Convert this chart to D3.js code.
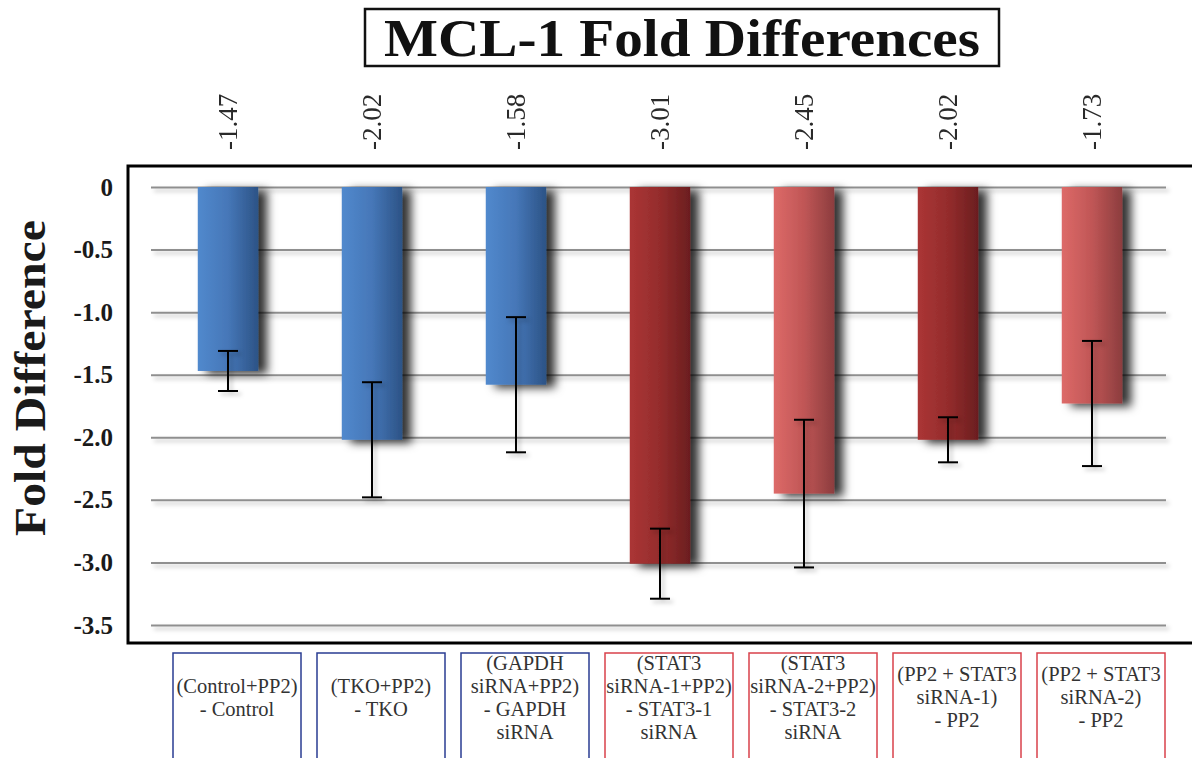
<!DOCTYPE html>
<html>
<head>
<meta charset="utf-8">
<script src="https://cdn.jsdelivr.net/npm/d3@7"></script>
<style>
  body { margin: 0; background: #fff; }
  svg { display: block; }
</style>
</head>
<body>
<svg id="chart" width="1192" height="758"></svg>
<script>
/* ======================= DATA ========================== */
const categories = [
    ["(Control+PP2)", "- Control"],
    ["(TKO+PP2)", "- TKO"],
    ["(GAPDH", "siRNA+PP2)", "- GAPDH", "siRNA"],
    ["(STAT3", "siRNA-1+PP2)", "- STAT3-1", "siRNA"],
    ["(STAT3", "siRNA-2+PP2)", "- STAT3-2", "siRNA"],
    ["(PP2 + STAT3", "siRNA-1)", "- PP2"],
    ["(PP2 + STAT3", "siRNA-2)", "- PP2"]
];
const foldValues = [-1.47, -2.02, -1.58, -3.01, -2.45, -2.02, -1.73];
const errValues  = [0.16, 0.46, 0.54, 0.28, 0.59, 0.18, 0.50];
const groups     = ["ctrl", "ctrl", "ctrl", "stat", "statB", "stat", "statB"];
const yTicks     = [0, -0.5, -1.0, -1.5, -2.0, -2.5, -3.0, -3.5];

const titleText = "MCL-1 Fold Differences";
const yTitle = "Fold Difference";

/* ======================= SETUP ========================= */
const svg = d3.select("#chart");
const serif = "'Liberation Serif', 'DejaVu Serif', serif";
const idx = d3.range(foldValues.length);

// plain hyphen as minus sign, like the original
const loc = d3.formatLocale({ decimal: ".", thousands: ",", grouping: [3], currency: ["", ""], minus: "-" });
const fmt1 = loc.format(".1f");
const fmt2 = loc.format(".2f");

const x = d3.scaleBand()
            .domain(idx)
            .range([156, 1164])
            .paddingInner(0.58)
            .paddingOuter(0.29);

const y = d3.scaleLinear()
            .domain([0, -3.5])
            .range([187, 625]);

const gradStops = {
    ctrl:  ["#5189cd", "#4677b8", "#2c5386"],
    stat:  ["#ab3535", "#942c2c", "#6b1e1f"],
    statB: ["#dd6a68", "#c05656", "#8c3d3e"]
};
const boxColor = { ctrl: "#2a3d92", stat: "#d9414b", statB: "#d9414b" };

let defs = svg.append("defs");

Object.keys(gradStops).forEach(k => {
    let g = defs.append("linearGradient")
                .attr("id", "grad_" + k)
                .attr("x1", "0%").attr("x2", "100%")
                .attr("y1", "0%").attr("y2", "0%");
    gradStops[k].forEach((c, i) => {
        g.append("stop")
         .attr("offset", (i * 50) + "%")
         .attr("stop-color", c);
    });
});

let shadow = defs.append("filter")
                 .attr("id", "shadow")
                 .attr("x", "-20%").attr("y", "-10%")
                 .attr("width", "170%").attr("height", "130%");
shadow.append("feDropShadow")
      .attr("dx", 9).attr("dy", 3)
      .attr("stdDeviation", 5)
      .attr("flood-color", "#000")
      .attr("flood-opacity", 0.8);

let softShadow = defs.append("filter")
                     .attr("id", "softShadow")
                     .attr("x", "-50%").attr("y", "-50%")
                     .attr("width", "200%").attr("height", "200%");
softShadow.append("feDropShadow")
          .attr("dx", 3).attr("dy", 3)
          .attr("stdDeviation", 2)
          .attr("flood-color", "#000")
          .attr("flood-opacity", 0.25);

/* ======================= TITLE ========================= */
svg.append("rect")
   .attr("x", 365).attr("y", 9)
   .attr("width", 634).attr("height", 57)
   .attr("fill", "#fff")
   .attr("stroke", "#111")
   .attr("stroke-width", 2.5);

svg.append("text")
   .attr("x", 682).attr("y", 56)
   .attr("text-anchor", "middle")
   .attr("font-family", serif)
   .attr("font-weight", "bold")
   .attr("font-size", 52)
   .attr("fill", "#111")
   .attr("textLength", 596)
   .attr("lengthAdjust", "spacingAndGlyphs")
   .text(titleText);

/* ======================= FRAME ========================= */
svg.append("rect")
   .attr("x", 128).attr("y", 166)
   .attr("width", 1070).attr("height", 477)
   .attr("fill", "#fff")
   .attr("stroke", "#000")
   .attr("stroke-width", 3);

/* ======================= GRID + AXIS =================== */
let grid = svg.append("g")
              .attr("transform", "translate(1166,0)")
              .attr("filter", "url(#softShadow)")
              .call(d3.axisLeft(y).tickValues(yTicks).tickSize(1015).tickFormat(""));
grid.select(".domain").remove();
grid.selectAll(".tick line")
    .attr("stroke", "#8f8f8f")
    .attr("stroke-width", 2);

let yAxis = svg.append("g")
               .attr("transform", "translate(113,0)")
               .call(d3.axisLeft(y).tickValues(yTicks).tickSize(0).tickPadding(0)
                       .tickFormat(d => d === 0 ? "0" : fmt1(d)));
yAxis.select(".domain").remove();
yAxis.selectAll("text")
     .attr("font-family", serif)
     .attr("font-weight", "bold")
     .attr("font-size", 25)
     .attr("fill", "#1a1a1a");

svg.append("text")
   .attr("transform", "translate(45,378) rotate(-90)")
   .attr("text-anchor", "middle")
   .attr("font-family", serif)
   .attr("font-weight", "bold")
   .attr("font-size", 44)
   .attr("fill", "#1a1a1a")
   .attr("textLength", 316)
   .attr("lengthAdjust", "spacingAndGlyphs")
   .text(yTitle);

/* ======================= BARS ========================== */
svg.append("g")
   .selectAll("rect")
   .data(idx)
   .join("rect")
   .attr("x", i => x(i))
   .attr("y", y(0))
   .attr("width", x.bandwidth())
   .attr("height", i => y(foldValues[i]) - y(0))
   .attr("fill", i => "url(#grad_" + groups[i] + ")")
   .attr("filter", "url(#shadow)");

/* ======================= ERROR BARS ==================== */
let errG = svg.append("g")
              .attr("filter", "url(#softShadow)")
              .attr("stroke", "#000")
              .attr("stroke-width", 2);
let cx = i => x(i) + x.bandwidth() / 2;
let capW = 10;

errG.selectAll(".stem")
    .data(idx)
    .join("line")
    .attr("class", "stem")
    .attr("x1", cx).attr("x2", cx)
    .attr("y1", i => y(foldValues[i] + errValues[i]))
    .attr("y2", i => y(foldValues[i] - errValues[i]));

errG.selectAll(".capTop")
    .data(idx)
    .join("line")
    .attr("class", "capTop")
    .attr("x1", i => cx(i) - capW).attr("x2", i => cx(i) + capW)
    .attr("y1", i => y(foldValues[i] + errValues[i]))
    .attr("y2", i => y(foldValues[i] + errValues[i]));

errG.selectAll(".capBot")
    .data(idx)
    .join("line")
    .attr("class", "capBot")
    .attr("x1", i => cx(i) - capW).attr("x2", i => cx(i) + capW)
    .attr("y1", i => y(foldValues[i] - errValues[i]))
    .attr("y2", i => y(foldValues[i] - errValues[i]));

/* ======================= VALUE LABELS ================== */
svg.append("g")
   .selectAll("text")
   .data(idx)
   .join("text")
   .attr("transform", i => "translate(" + (cx(i) + 9) + ",150) rotate(-90)")
   .attr("font-family", serif)
   .attr("font-size", 27)
   .attr("fill", "#2a2a2a")
   .text(i => fmt2(foldValues[i]));

/* ======================= CATEGORY BOXES ================ */
let lineH = 23;
let boxG = svg.append("g")
              .selectAll("g")
              .data(idx)
              .join("g")
              .attr("transform", i => "translate(" + (cx(i) + 9) + ",0)");

boxG.append("rect")
    .attr("x", -64).attr("y", 653)
    .attr("width", 128).attr("height", 120)
    .attr("fill", "none")
    .attr("stroke", i => boxColor[groups[i]])
    .attr("stroke-width", 1.5);

boxG.each(function(i) {
    let lines = categories[i];
    let y0 = 704 - (lines.length - 1) * lineH / 2;
    d3.select(this).selectAll("text")
      .data(lines)
      .join("text")
      .attr("x", 0)
      .attr("y", (d, j) => y0 + j * lineH)
      .attr("text-anchor", "middle")
      .attr("font-family", serif)
      .attr("font-size", 20.5)
      .attr("fill", "#333")
      .text(d => d);
});
</script>
</body>
</html>
